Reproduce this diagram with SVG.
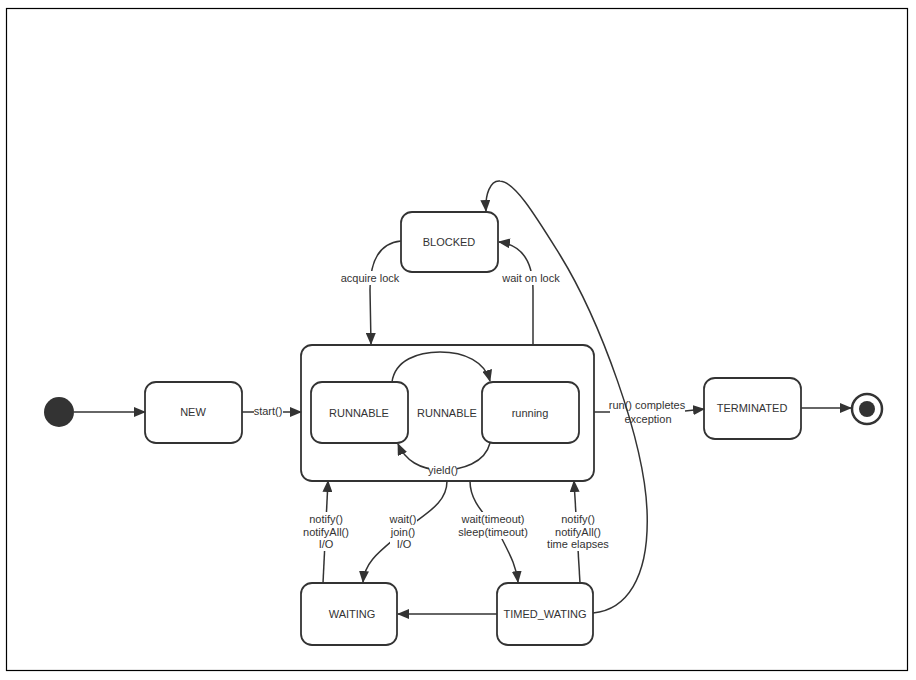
<svg xmlns="http://www.w3.org/2000/svg" width="916" height="680" viewBox="0 0 916 680">
<style>
.node{fill:#fff;stroke:#333;stroke-width:1.8}
.t{font-family:"Liberation Sans",Arial,sans-serif;font-size:11px;fill:#333;text-anchor:middle;dominant-baseline:central}
.c{fill:none;stroke:#333;stroke-width:1.5;marker-end:url(#ah)}
.cn{fill:none;stroke:#333;stroke-width:1.5}
.bg{fill:#fff}
</style>
<defs>
<marker id="ah" viewBox="0 0 12 10" refX="11" refY="5" markerWidth="12" markerHeight="10" markerUnits="userSpaceOnUse" orient="auto">
<path d="M0,0 L12,5 L0,10 Z" fill="#333"/>
</marker>
</defs>
<rect x="0" y="0" width="916" height="680" fill="#fff"/>
<rect x="6.5" y="8.5" width="901" height="662" fill="none" stroke="#000" stroke-width="1.2"/>

<g id="composite">
<rect class="node" x="301" y="345" width="293" height="136" rx="11"/>
<text class="t" x="447" y="413">RUNNABLE</text>
</g>
<g id="initial"><circle cx="59" cy="412" r="15" fill="#333"/></g>
<g id="NEW"><rect class="node" x="145" y="382" width="97" height="61" rx="11"/><text class="t" x="193" y="412">NEW</text></g>
<g id="RUNNABLE"><rect class="node" x="311" y="382" width="97" height="61" rx="11"/><text class="t" x="359" y="413">RUNNABLE</text></g>
<g id="running"><rect class="node" x="482" y="382" width="97" height="61" rx="11"/><text class="t" x="530" y="413">running</text></g>
<g id="BLOCKED"><rect class="node" x="401" y="212" width="97" height="60" rx="11"/><text class="t" x="449" y="242">BLOCKED</text></g>
<g id="WAITING"><rect class="node" x="301" y="583" width="96" height="62" rx="11"/><text class="t" x="352" y="614">WAITING</text></g>
<g id="TIMED_WATING"><rect class="node" x="497" y="583" width="96" height="62" rx="11"/><text class="t" x="545" y="614">TIMED_WATING</text></g>
<g id="TERMINATED"><rect class="node" x="704" y="378" width="97" height="61" rx="11"/><text class="t" x="752" y="408">TERMINATED</text></g>
<g id="final"><circle cx="867" cy="409" r="15" fill="#fff" stroke="#333" stroke-width="2.5"/><circle cx="867" cy="409" r="8" fill="#333"/></g>

<g id="connectors">
<path class="c" d="M74,412 L145,412"/>
<path class="c" d="M242,412 L301,412"/>
<rect class="bg" x="254" y="405" width="29" height="13"/>
<text class="t" x="268" y="411">start()</text>

<path class="cn" d="M594,412 L610,412"/>
<path class="c" d="M685,411 L704,409"/>
<text class="t" x="647" y="405">run() completes</text>
<text class="t" x="648" y="418.5">exception</text>

<path class="c" d="M801,408 L851,408"/>

<path class="c" d="M401,241 C380,243 370,260 370,290 L371,344"/>
<rect class="bg" x="339" y="271" width="62" height="14"/>
<text class="t" x="370" y="278">acquire lock</text>

<path class="c" d="M533,345 L533,290 C533,262 522,245 499,242"/>
<rect class="bg" x="500" y="271" width="63" height="14"/>
<text class="t" x="531" y="278">wait on lock</text>

<path class="c" d="M392,382 C395,360 418,352 440,352 C465,352 485,362 490,381"/>
<path class="c" d="M490,443 C485,463 462,470 442,470 C420,470 405,460 398,444"/>
<rect class="bg" x="429" y="464" width="28" height="12"/>
<text class="t" x="443" y="470">yield()</text>

<path class="c" d="M323,583 L328,481"/>
<rect class="bg" x="301" y="512" width="50" height="39"/>
<text class="t" x="326" y="519">notify()</text>
<text class="t" x="326" y="531.7">notifyAll()</text>
<text class="t" x="326" y="544.4">I/O</text>

<path class="c" d="M447,481 C447,505 422,515 405,530 C382,550 365,560 363,582"/>
<rect class="bg" x="390" y="512" width="27" height="39"/>
<text class="t" x="403" y="519">wait()</text>
<text class="t" x="403" y="531.7">join()</text>
<text class="t" x="404" y="544.4">I/O</text>

<path class="c" d="M470,481 C470,505 490,518 500,535 C510,555 516,565 518,582"/>
<rect class="bg" x="457" y="512" width="73" height="27"/>
<text class="t" x="493" y="519">wait(timeout)</text>
<text class="t" x="493" y="531.7">sleep(timeout)</text>

<path class="c" d="M580,583 L574,481"/>
<rect class="bg" x="547" y="512" width="63" height="39"/>
<text class="t" x="578" y="519">notify()</text>
<text class="t" x="578" y="531.7">notifyAll()</text>
<text class="t" x="578" y="544.4">time elapses</text>

<path class="c" d="M497,614 L398,614"/>

<path class="c" d="M593,613 C625,610 650,580 647,510 C644,440 600,320 560,255 C535,215 515,182 500,181 C490,180 485,195 486,211"/>
</g>
</svg>
